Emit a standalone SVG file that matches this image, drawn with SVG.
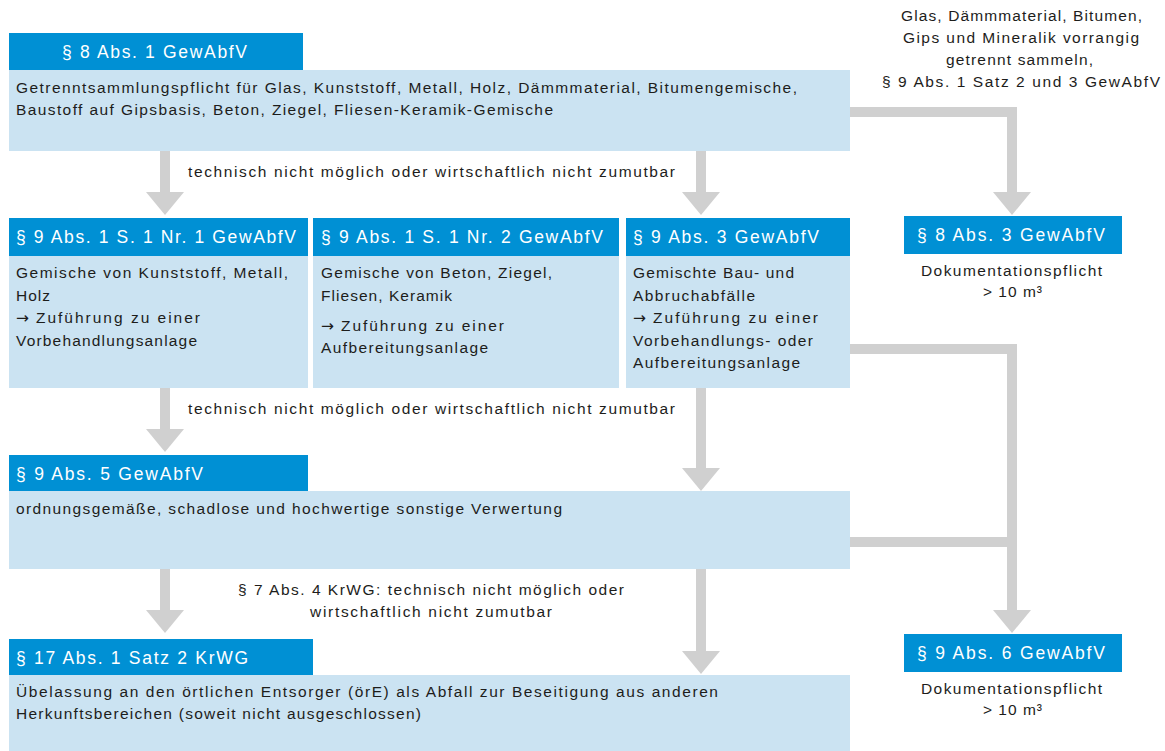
<svg xmlns="http://www.w3.org/2000/svg" width="1165" height="751" viewBox="0 0 1165 751">
<style>
.hd{fill:#0090d4}
.bd{fill:#cbe3f2}
.ht{font-family:"Liberation Sans",Arial,sans-serif;font-size:17.5px;fill:#ffffff}
.bt{font-family:"Liberation Sans",Arial,sans-serif;font-size:15.5px;fill:#1d1d1b}
.ar{font-family:"DejaVu Sans",sans-serif}
.con{fill:none;stroke:#d0d0d0;stroke-width:10;stroke-linejoin:miter}
</style>
<defs>
<marker id="ah" markerUnits="userSpaceOnUse" markerWidth="23" markerHeight="38" viewBox="0 -19 23 38" refX="0" refY="0" orient="auto">
<path d="M0,-19 L23,0 L0,19 Z" fill="#d0d0d0"/>
</marker>
</defs>
<rect width="1165" height="751" fill="#ffffff"/>

<g id="connectors">
<path class="con" d="M165,151 V192" marker-end="url(#ah)"/>
<path class="con" d="M701,151 V192" marker-end="url(#ah)"/>
<path class="con" d="M850,112 H1012 V192" marker-end="url(#ah)"/>
<path class="con" d="M165,388 V429" marker-end="url(#ah)"/>
<path class="con" d="M701,388 V468" marker-end="url(#ah)"/>
<path class="con" d="M850,349 H1012 V610" marker-end="url(#ah)"/>
<path class="con" d="M850,542 H1012"/>
<path class="con" d="M165,569 V610" marker-end="url(#ah)"/>
<path class="con" d="M701,569 V651" marker-end="url(#ah)"/>
</g>

<g id="labels">
<text class="bt" x="188" y="177" textLength="487" lengthAdjust="spacing">technisch nicht möglich oder wirtschaftlich nicht zumutbar</text>
<text class="bt" x="188" y="414" textLength="487" lengthAdjust="spacing">technisch nicht möglich oder wirtschaftlich nicht zumutbar</text>
<text class="bt" x="238" y="595" textLength="386" lengthAdjust="spacing">§ 7 Abs. 4 KrWG: technisch nicht möglich oder</text>
<text class="bt" x="310" y="617" textLength="242" lengthAdjust="spacing">wirtschaftlich nicht zumutbar</text>
<text class="bt" x="901" y="21" textLength="241" lengthAdjust="spacing">Glas, Dämmmaterial, Bitumen,</text>
<text class="bt" x="903" y="43" textLength="236" lengthAdjust="spacing">Gips und Mineralik vorrangig</text>
<text class="bt" x="946" y="65" textLength="147" lengthAdjust="spacing">getrennt sammeln,</text>
<text class="bt" x="882" y="87" textLength="278" lengthAdjust="spacing">§ 9 Abs. 1 Satz 2 und 3 GewAbfV</text>
</g>

<g id="n-8-1">
<rect class="bd" x="9" y="70" width="841" height="81"/>
<rect class="hd" x="9" y="33" width="294" height="37"/>
<text class="ht" x="62" y="58" textLength="185" lengthAdjust="spacing">§ 8 Abs. 1 GewAbfV</text>
<text class="bt" x="16" y="93" textLength="781" lengthAdjust="spacing">Getrenntsammlungspflicht für Glas, Kunststoff, Metall, Holz, Dämmmaterial, Bitumengemische,</text>
<text class="bt" x="16" y="115" textLength="537" lengthAdjust="spacing">Baustoff auf Gipsbasis, Beton, Ziegel, Fliesen-Keramik-Gemische</text>
</g>

<g id="n-8-3">
<rect class="hd" x="904" y="216" width="218" height="38"/>
<text class="ht" x="917" y="241" textLength="188" lengthAdjust="spacing">§ 8 Abs. 3 GewAbfV</text>
<text class="bt" x="921" y="276" textLength="181" lengthAdjust="spacing">Dokumentationspflicht</text>
<text class="bt" x="983" y="297" textLength="59" lengthAdjust="spacing">&gt; 10 m³</text>
</g>

<g id="n-9-1-1">
<rect class="bd" x="9" y="256" width="299" height="132"/>
<rect class="hd" x="9" y="218" width="299" height="38"/>
<text class="ht" x="16" y="243" textLength="280" lengthAdjust="spacing">§ 9 Abs. 1 S. 1 Nr. 1 GewAbfV</text>
<text class="bt" x="16" y="278" textLength="272" lengthAdjust="spacing">Gemische von Kunststoff, Metall,</text>
<text class="bt" x="16" y="301" textLength="34" lengthAdjust="spacing">Holz</text>
<text class="bt" x="16" y="323"><tspan class="ar">→</tspan><tspan x="36" textLength="164" lengthAdjust="spacing">Zuführung zu einer</tspan></text>
<text class="bt" x="16" y="346" textLength="181" lengthAdjust="spacing">Vorbehandlungsanlage</text>
</g>

<g id="n-9-1-2">
<rect class="bd" x="313" y="256" width="306" height="132"/>
<rect class="hd" x="313" y="218" width="306" height="38"/>
<text class="ht" x="321" y="243" textLength="282" lengthAdjust="spacing">§ 9 Abs. 1 S. 1 Nr. 2 GewAbfV</text>
<text class="bt" x="321" y="278" textLength="231" lengthAdjust="spacing">Gemische von Beton, Ziegel,</text>
<text class="bt" x="321" y="301" textLength="131" lengthAdjust="spacing">Fliesen, Keramik</text>
<text class="bt" x="321" y="331"><tspan class="ar">→</tspan><tspan x="341" textLength="163" lengthAdjust="spacing">Zuführung zu einer</tspan></text>
<text class="bt" x="321" y="353" textLength="167" lengthAdjust="spacing">Aufbereitungsanlage</text>
</g>

<g id="n-9-3">
<rect class="bd" x="626" y="256" width="224" height="132"/>
<rect class="hd" x="626" y="218" width="224" height="38"/>
<text class="ht" x="633" y="243" textLength="186" lengthAdjust="spacing">§ 9 Abs. 3 GewAbfV</text>
<text class="bt" x="633" y="278" textLength="161" lengthAdjust="spacing">Gemischte Bau- und</text>
<text class="bt" x="633" y="301" textLength="122" lengthAdjust="spacing">Abbruchabfälle</text>
<text class="bt" x="633" y="323"><tspan class="ar">→</tspan><tspan x="653" textLength="165" lengthAdjust="spacing">Zuführung zu einer</tspan></text>
<text class="bt" x="633" y="346" textLength="180" lengthAdjust="spacing">Vorbehandlungs- oder</text>
<text class="bt" x="633" y="368" textLength="167" lengthAdjust="spacing">Aufbereitungsanlage</text>
</g>

<g id="n-9-5">
<rect class="bd" x="9" y="491" width="841" height="78"/>
<rect class="hd" x="9" y="455" width="299" height="36"/>
<text class="ht" x="16" y="480" textLength="187" lengthAdjust="spacing">§ 9 Abs. 5 GewAbfV</text>
<text class="bt" x="16" y="514" textLength="546" lengthAdjust="spacing">ordnungsgemäße, schadlose und hochwertige sonstige Verwertung</text>
</g>

<g id="n-9-6">
<rect class="hd" x="904" y="634" width="218" height="38"/>
<text class="ht" x="917" y="659" textLength="188" lengthAdjust="spacing">§ 9 Abs. 6 GewAbfV</text>
<text class="bt" x="921" y="694" textLength="181" lengthAdjust="spacing">Dokumentationspflicht</text>
<text class="bt" x="983" y="715" textLength="59" lengthAdjust="spacing">&gt; 10 m³</text>
</g>

<g id="n-17">
<rect class="bd" x="9" y="675" width="841" height="76"/>
<rect class="hd" x="9" y="639" width="304" height="36"/>
<text class="ht" x="16" y="664" textLength="232" lengthAdjust="spacing">§ 17 Abs. 1 Satz 2 KrWG</text>
<text class="bt" x="16" y="697" textLength="702" lengthAdjust="spacing">Übelassung an den örtlichen Entsorger (örE) als Abfall zur Beseitigung aus anderen</text>
<text class="bt" x="16" y="719" textLength="405" lengthAdjust="spacing">Herkunftsbereichen (soweit nicht ausgeschlossen)</text>
</g>
</svg>
